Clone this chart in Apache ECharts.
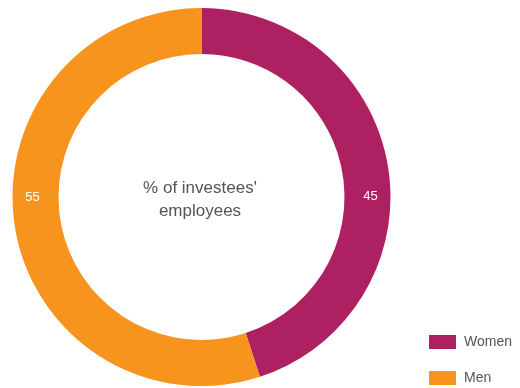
<!DOCTYPE html>
<html><head><meta charset="utf-8">
<script src="https://cdn.jsdelivr.net/npm/echarts@6/dist/echarts.min.js"></script>
<style>html,body{margin:0;padding:0;background:#fff}#c{width:520px;height:388px}</style>
</head><body><div id="c"></div>
<script>
var categories = ['Women', 'Men'];
var values = [45, 55];
var colors = ['#AD2162', '#F7941D'];
var centerText = "% of investees'\nemployees";

var chart = echarts.init(document.getElementById('c'), null, {renderer: 'canvas'});
chart.setOption({
  animation: false,
  color: colors,
  legend: {
    orient: 'vertical', left: 429, top: 335, padding: 0,
    itemWidth: 27, itemHeight: 14, itemGap: 22,
    icon: 'rect',
    textStyle: {fontFamily: 'Liberation Sans, Arial, sans-serif', fontSize: 14, color: '#555', lineHeight: 14, padding: [0, 0, 0, 3]},
    data: categories
  },
  graphic: [{
    type: 'text',
    x: 200, y: 200,
    style: {
      text: centerText,
      align: 'center', verticalAlign: 'middle',
      font: '17px "Liberation Sans", Arial, sans-serif', fill: '#555', lineHeight: 23
    }
  }],
  series: [{
    type: 'pie',
    center: [201.5, 197],
    radius: [143, 189],
    startAngle: 90,
    clockwise: true,
    label: {show: true, position: 'inside', color: '#fff', fontSize: 13, fontFamily: 'Liberation Sans, Arial, sans-serif', formatter: '{c}'},
    labelLine: {show: false},
    emphasis: {disabled: true},
    data: categories.map(function (c, i) {
      return {name: c, value: values[i], label: {offset: i === 0 ? [2, 26] : [-2, -26]}};
    })
  }]
});
</script></body></html>
